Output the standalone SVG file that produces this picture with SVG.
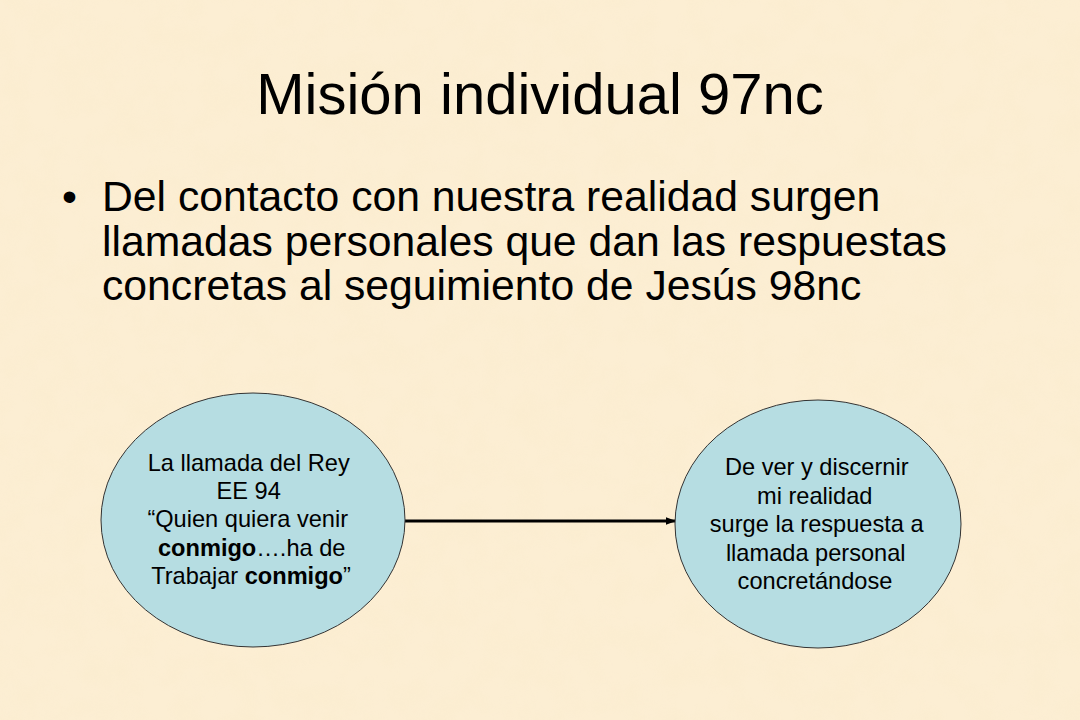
<svg xmlns="http://www.w3.org/2000/svg" width="1080" height="720" viewBox="0 0 1080 720">
  <defs>
    <style>
      .title { font-family: "Liberation Sans", Arial, sans-serif; font-size: 58px; fill: #000; }
      .body { font-family: "Liberation Sans", Arial, sans-serif; font-size: 42.7px; fill: #000; }
      .lbl { font-family: "Liberation Sans", Arial, sans-serif; font-size: 23.6px; fill: #000; text-anchor: middle; }
      .node { fill: #B6DDE2; stroke: #333; stroke-width: 1; }
      .edge { stroke: #000; stroke-width: 3; fill: none; }
    </style>
    <marker id="arrow" viewBox="0 0 10 10" refX="9" refY="5" markerWidth="3.4" markerHeight="2.6" orient="auto" markerUnits="strokeWidth" preserveAspectRatio="none">
      <path d="M0,0 L10,5 L0,10 z" fill="#000"/>
    </marker>
    <filter id="paper" x="0" y="0" width="100%" height="100%">
      <feTurbulence type="fractalNoise" baseFrequency="0.035" numOctaves="3" seed="7" result="n"/>
      <feColorMatrix in="n" type="matrix" values="0 0 0 0 0.93  0 0 0 0 0.80  0 0 0 0 0.55  0 0 0 0.55 -0.18"/>
    </filter>
  </defs>
  <rect width="1080" height="720" fill="#FCEED3"/>
  <rect width="1080" height="720" filter="url(#paper)" opacity="0.55"/>

  <g id="title">
    <text class="title" x="540" y="114" text-anchor="middle">Misión individual 97nc</text>
  </g>

  <g id="bullet">
    <text class="body" x="62" y="211">•</text>
    <text class="body" x="102" y="211">Del contacto con nuestra realidad surgen</text>
    <text class="body" x="102" y="256">llamadas personales que dan las respuestas</text>
    <text class="body" x="102" y="300">concretas al seguimiento de Jesús 98nc</text>
  </g>

  <g id="connectors">
    <line class="edge" x1="405" y1="521" x2="675" y2="521" marker-end="url(#arrow)"/>
  </g>

  <g id="node-llamada">
    <ellipse class="node" cx="253" cy="520" rx="152" ry="127"/>
    <text class="lbl">
      <tspan x="252" y="471">La llamada del Rey</tspan>
      <tspan x="252" y="499">EE 94</tspan>
      <tspan x="251" y="527">“Quien quiera venir</tspan>
      <tspan x="255" y="556"><tspan font-weight="bold">conmigo</tspan>….ha de</tspan>
      <tspan x="251" y="584">Trabajar <tspan font-weight="bold">conmigo</tspan>”</tspan>
    </text>
  </g>

  <g id="node-respuesta">
    <ellipse class="node" cx="818" cy="524" rx="143" ry="124"/>
    <text class="lbl">
      <tspan x="820" y="475">De ver y discernir</tspan>
      <tspan x="818" y="504">mi realidad</tspan>
      <tspan x="820" y="532">surge la respuesta a</tspan>
      <tspan x="819" y="561">llamada personal</tspan>
      <tspan x="815" y="589">concretándose</tspan>
    </text>
  </g>
</svg>
